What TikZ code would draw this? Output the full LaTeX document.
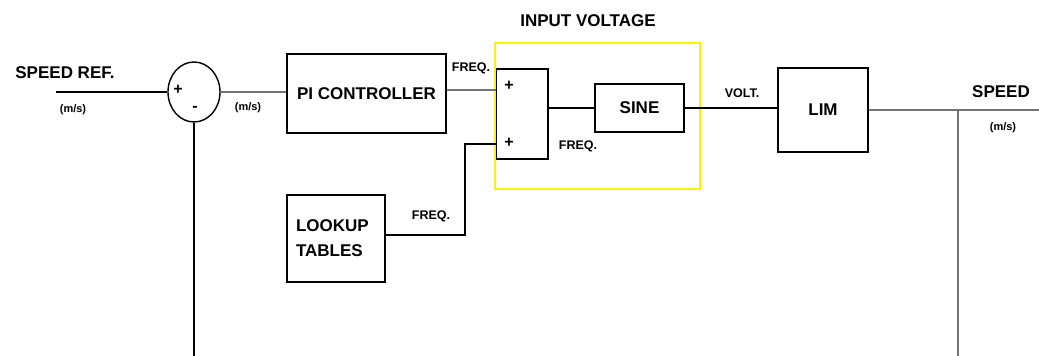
\documentclass[tikz,border=0pt]{standalone}
\usepackage{fontspec}
\setmainfont{Liberation Sans}
\usetikzlibrary{shapes.geometric,calc}
\begin{document}
\begin{tikzpicture}[x=1pt,y=-1pt,
  blk/.style={draw,line width=1.6pt,rectangle,inner sep=0pt,font=\bfseries\fontsize{17}{19}\selectfont},
  big/.style={font=\bfseries\fontsize{17}{20}\selectfont,inner sep=0pt},
  small/.style={font=\bfseries\fontsize{12.5}{14}\selectfont,inner sep=0pt},
  sign/.style={font=\bfseries\fontsize{16}{18}\selectfont,inner sep=0pt},
  tiny/.style={font=\bfseries\fontsize{11}{13}\selectfont,inner sep=0pt},
  wire/.style={line width=1.6pt},
  gwire/.style={line width=1.9pt,draw=black!55}]
\useasboundingbox (0,0) rectangle (1039,356);
% blocks
\node[draw,line width=1.4pt,ellipse,minimum width=52pt,minimum height=60pt,inner sep=0pt] (sum) at (194,92) {};
\node[blk,minimum width=159pt,minimum height=79pt] (pi) at (366.5,93.5) {PI CONTROLLER};
\node[blk,minimum width=52pt,minimum height=90pt] (add) at (522,114) {};
\node[blk,minimum width=89pt,minimum height=48pt] (sine) at (639.5,108) {SINE};
\node[blk,minimum width=90pt,minimum height=84pt] (lim) at (823,110) {LIM};
\node[blk,minimum width=98pt,minimum height=87pt,align=left,text width=80pt,font=\bfseries\fontsize{17}{25}\selectfont] (lut) at (336,238.5) {LOOKUP\\TABLES};
\node[draw=yellow,line width=1.6pt,rectangle,minimum width=205pt,minimum height=146pt,inner sep=0pt] (frame) at (597.5,116) {};
% coordinates
\coordinate (in) at (56,92);
\coordinate (a1) at (496,90);
\coordinate (a2) at (496,144);
\coordinate (bend) at (465,144);
\coordinate (out) at (1039,110);
\coordinate (tap) at (958,110);
\coordinate (fbR) at (958,356);
\coordinate (fbL) at (194,356);
% connectors
\draw[wire] (in) -- (sum.west);
\draw[gwire] (sum.east) -- (sum.east -| pi.west);
\draw[gwire] (pi.east |- a1) -- (a1);
\draw[wire] (add.east |- sine.west) -- (sine.west);
\draw[wire] (sine.east) -- (sine.east -| lim.west);
\draw[gwire] (lim.east) -- (out);
\draw[gwire] (tap) -- (fbR);
\draw[wire] (sum.south) -- (fbL);
\draw[wire] ([yshift=3.5pt]lut.east) -| (bend) -- (a2);
% labels
\node[big] (lsref) at (65,73) {SPEED REF.};
\node[tiny] (lms1) at (73,110) {(m/s)};
\node[sign] (lp1) at (178,90) {+};
\node[sign] (lm1) at (195,109) {-};
\node[tiny] (lms2) at (248,108) {(m/s)};
\node[small] (lf1) at (471,68) {FREQ.};
\node[sign] (lp2) at (509,86) {+};
\node[sign] (lp3) at (509,143) {+};
\node[big] (liv) at (588,21) {INPUT VOLTAGE};
\node[small] (lf2) at (578,146) {FREQ.};
\node[small] (lv) at (742,93) {VOLT.};
\node[big] (lsp) at (1001,92) {SPEED};
\node[tiny] (lms3) at (1003,128) {(m/s)};
\node[small] (lf3) at (431,216) {FREQ.};
\end{tikzpicture}
\end{document}
